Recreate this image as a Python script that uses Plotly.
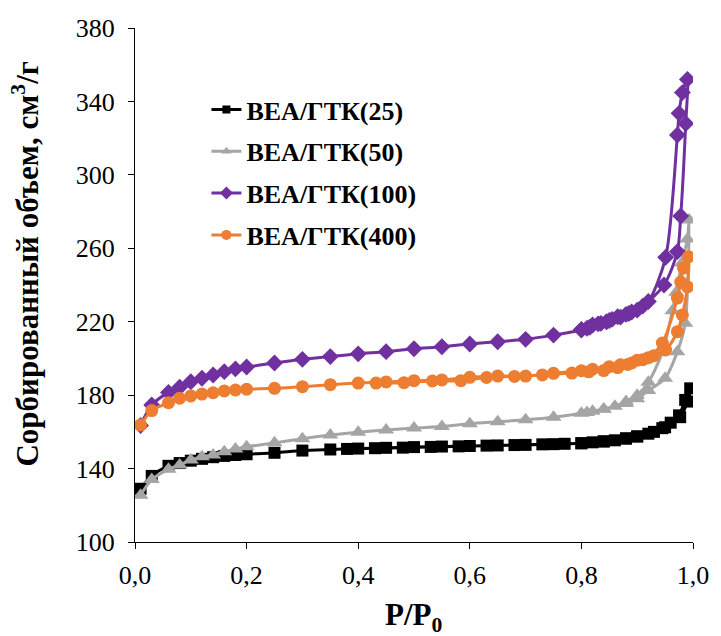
import plotly.graph_objects as go

# Nitrogen sorption isotherms: adsorption branch (rising P/P0) followed by desorption branch (falling P/P0)

# BEA/ГТК(25)
p25_ads = [0.01, 0.03, 0.06, 0.08, 0.10, 0.12, 0.14, 0.16, 0.18, 0.20, 0.25, 0.30, 0.35, 0.40, 0.45,
           0.50, 0.55, 0.60, 0.65, 0.70, 0.75, 0.80, 0.84, 0.88, 0.90, 0.93, 0.945, 0.96, 0.975, 0.986, 0.995]
v25_ads = [129.0, 136.0, 141.5, 143.0, 144.3, 145.3, 146.2, 146.9, 147.4, 147.8, 148.6, 149.8, 150.4, 150.9, 151.3,
           151.7, 152.0, 152.3, 152.6, 152.9, 153.3, 153.8, 154.8, 156.5, 157.5, 160.0, 162.0, 165.0, 169.0, 177.4, 183.7]
p25_des = [0.99, 0.977, 0.95, 0.92, 0.90, 0.88, 0.86, 0.84, 0.82, 0.80, 0.77, 0.73, 0.68, 0.63,
           0.58, 0.53, 0.48, 0.43, 0.38]
v25_des = [176.5, 168.0, 162.5, 159.0, 157.5, 156.3, 155.4, 154.8, 154.3, 153.8, 153.5, 153.2, 152.8, 152.5,
           152.1, 151.8, 151.4, 151.1, 150.7]

# BEA/ГТК(50)
p50_ads = [0.01, 0.03, 0.06, 0.08, 0.10, 0.12, 0.14, 0.16, 0.18, 0.20, 0.25, 0.30, 0.35, 0.40, 0.45,
           0.50, 0.55, 0.60, 0.65, 0.70, 0.75, 0.80, 0.84, 0.88, 0.90, 0.92, 0.95, 0.972, 0.986, 0.993]
v50_ads = [125.5, 134.0, 139.6, 142.0, 144.7, 146.5, 147.4, 149.2, 150.7, 151.9, 154.0, 156.3, 158.3, 159.8, 161.0,
           162.1, 162.9, 164.4, 165.5, 166.6, 168.0, 170.1, 172.5, 175.5, 178.0, 182.5, 189.2, 203.7, 219.2, 275.4]
p50_des = [0.99, 0.98, 0.97, 0.963, 0.946, 0.92, 0.90, 0.88, 0.86, 0.84, 0.82, 0.81]
v50_des = [265.0, 252.0, 236.0, 226.0, 204.0, 187.0, 180.0, 176.5, 174.0, 172.3, 171.2, 170.5]

# BEA/ГТК(100)
p100_ads = [0.01, 0.03, 0.06, 0.08, 0.10, 0.12, 0.14, 0.16, 0.18, 0.20, 0.25, 0.30, 0.35, 0.40, 0.45,
            0.50, 0.55, 0.60, 0.65, 0.70, 0.75, 0.80, 0.81, 0.82, 0.835, 0.845, 0.855, 0.865, 0.88, 0.89,
            0.91, 0.948, 0.972, 0.978, 0.987, 0.99]
v100_ads = [163.5, 174.6, 181.5, 184.3, 187.3, 189.2, 191.0, 192.8, 194.3, 195.3, 197.5, 199.5, 201.0, 202.5, 203.7,
            205.3, 206.4, 207.9, 209.1, 210.4, 212.7, 215.5, 216.4, 218.2, 219.1, 220.0, 221.3, 222.7, 224.0, 225.3,
            228.5, 240.0, 258.2, 277.6, 328.0, 352.0]
p100_des = [0.981, 0.975, 0.972, 0.951, 0.92, 0.90, 0.885, 0.87, 0.85, 0.83, 0.815, 0.80]
v100_des = [344.8, 333.5, 321.7, 255.1, 231.0, 226.3, 224.5, 222.5, 220.7, 218.8, 217.0, 215.8]

# BEA/ГТК(400)
p400_ads = [0.01, 0.03, 0.06, 0.08, 0.10, 0.12, 0.14, 0.16, 0.18, 0.20, 0.25, 0.30, 0.35, 0.40, 0.45,
            0.50, 0.55, 0.60, 0.65, 0.70, 0.75, 0.80, 0.82, 0.85, 0.87, 0.89, 0.91, 0.93, 0.951, 0.972,
            0.981, 0.99, 0.992]
v400_ads = [163.8, 171.6, 175.9, 178.3, 179.6, 180.6, 181.3, 182.3, 182.8, 183.2, 183.7, 184.6, 185.7, 186.6, 187.2,
            187.9, 188.3, 189.7, 190.4, 190.4, 191.9, 193.3, 194.1, 195.5, 196.5, 197.5, 199.3, 201.5, 204.6, 214.6,
            223.7, 239.0, 255.4]
p400_des = [0.983, 0.978, 0.972, 0.945, 0.92, 0.90, 0.883, 0.865, 0.84, 0.813, 0.783, 0.73, 0.68, 0.63,
            0.584, 0.533, 0.482, 0.432]
v400_des = [249.3, 241.6, 232.9, 208.4, 200.4, 199.0, 196.7, 195.0, 193.4, 192.7, 192.0, 191.0, 190.2, 189.6,
            187.9, 187.7, 186.8, 186.6]

series = [
    ("BEA/ГТК(25)", p25_ads + p25_des, v25_ads + v25_des, "#000000", "square", 12, 8),
    ("BEA/ГТК(50)", p50_ads + p50_des, v50_ads + v50_des, "#A5A5A5", "triangle-up", 14, 9),
    ("BEA/ГТК(100)", p100_ads + p100_des, v100_ads + v100_des, "#7030A0", "diamond", 13, 10),
    ("BEA/ГТК(400)", p400_ads + p400_des, v400_ads + v400_des, "#ED7D31", "circle", 13, 10),
]

SERIF = "Liberation Serif, Times New Roman, serif"

fig = go.Figure()
for name, x, y, color, symbol, size, legend_size in series:
    fig.add_trace(go.Scatter(
        x=x, y=y, name=name, legendgroup=name, showlegend=False, mode="lines+markers",
        line=dict(color=color, width=3, shape="spline", smoothing=0.8),
        marker=dict(color=color, symbol=symbol, size=size, line=dict(width=0)),
    ))
    # legend entry with a smaller key marker
    fig.add_trace(go.Scatter(
        x=[None], y=[None], name=name, legendgroup=name, showlegend=True, mode="lines+markers",
        line=dict(color=color, width=3),
        marker=dict(color=color, symbol=symbol, size=legend_size, line=dict(width=0)),
    ))

fig.update_layout(
    width=721, height=636,
    margin=dict(l=135, r=18, t=28, b=94),
    paper_bgcolor="white", plot_bgcolor="white",
    separators=", ",
    font=dict(family=SERIF, color="black"),
    showlegend=True,
    legend=dict(
        x=0.128, y=0.887, xanchor="left", yanchor="top",
        bgcolor="rgba(0,0,0,0)", tracegroupgap=5,
        font=dict(family=SERIF, size=26, color="black", weight="bold"),
        itemwidth=30,
    ),
    xaxis=dict(
        range=[0, 1.0], tickvals=[0, 0.2, 0.4, 0.6, 0.8, 1.0], tickformat=".1f",
        showgrid=False, zeroline=False, showline=True, linecolor="black", linewidth=1,
        ticks="outside", ticklen=6, tickcolor="black",
        tickfont=dict(family=SERIF, size=26, color="black"), ticklabelstandoff=4,
    ),
    yaxis=dict(
        range=[100, 380], tickvals=[100, 140, 180, 220, 260, 300, 340, 380],
        showgrid=False, zeroline=False, showline=True, linecolor="black", linewidth=1,
        ticks="outside", ticklen=6, tickcolor="black",
        tickfont=dict(family=SERIF, size=26, color="black"), ticklabelstandoff=8,
    ),
    annotations=[
        dict(text="<b>Сорбированный объем, см<sup>3</sup>/г</b>", xref="paper", yref="paper",
             x=-0.197, y=0.54, xanchor="center", yanchor="middle", textangle=-90, showarrow=False,
             font=dict(family=SERIF, size=31, color="black")),
        dict(text="<b>P/P<sub>0</sub></b>", xref="paper", yref="paper",
             x=0.5, y=-0.145, xanchor="center", yanchor="middle", showarrow=False,
             font=dict(family=SERIF, size=31, color="black")),
    ],
)

fig.write_html("out.html")
